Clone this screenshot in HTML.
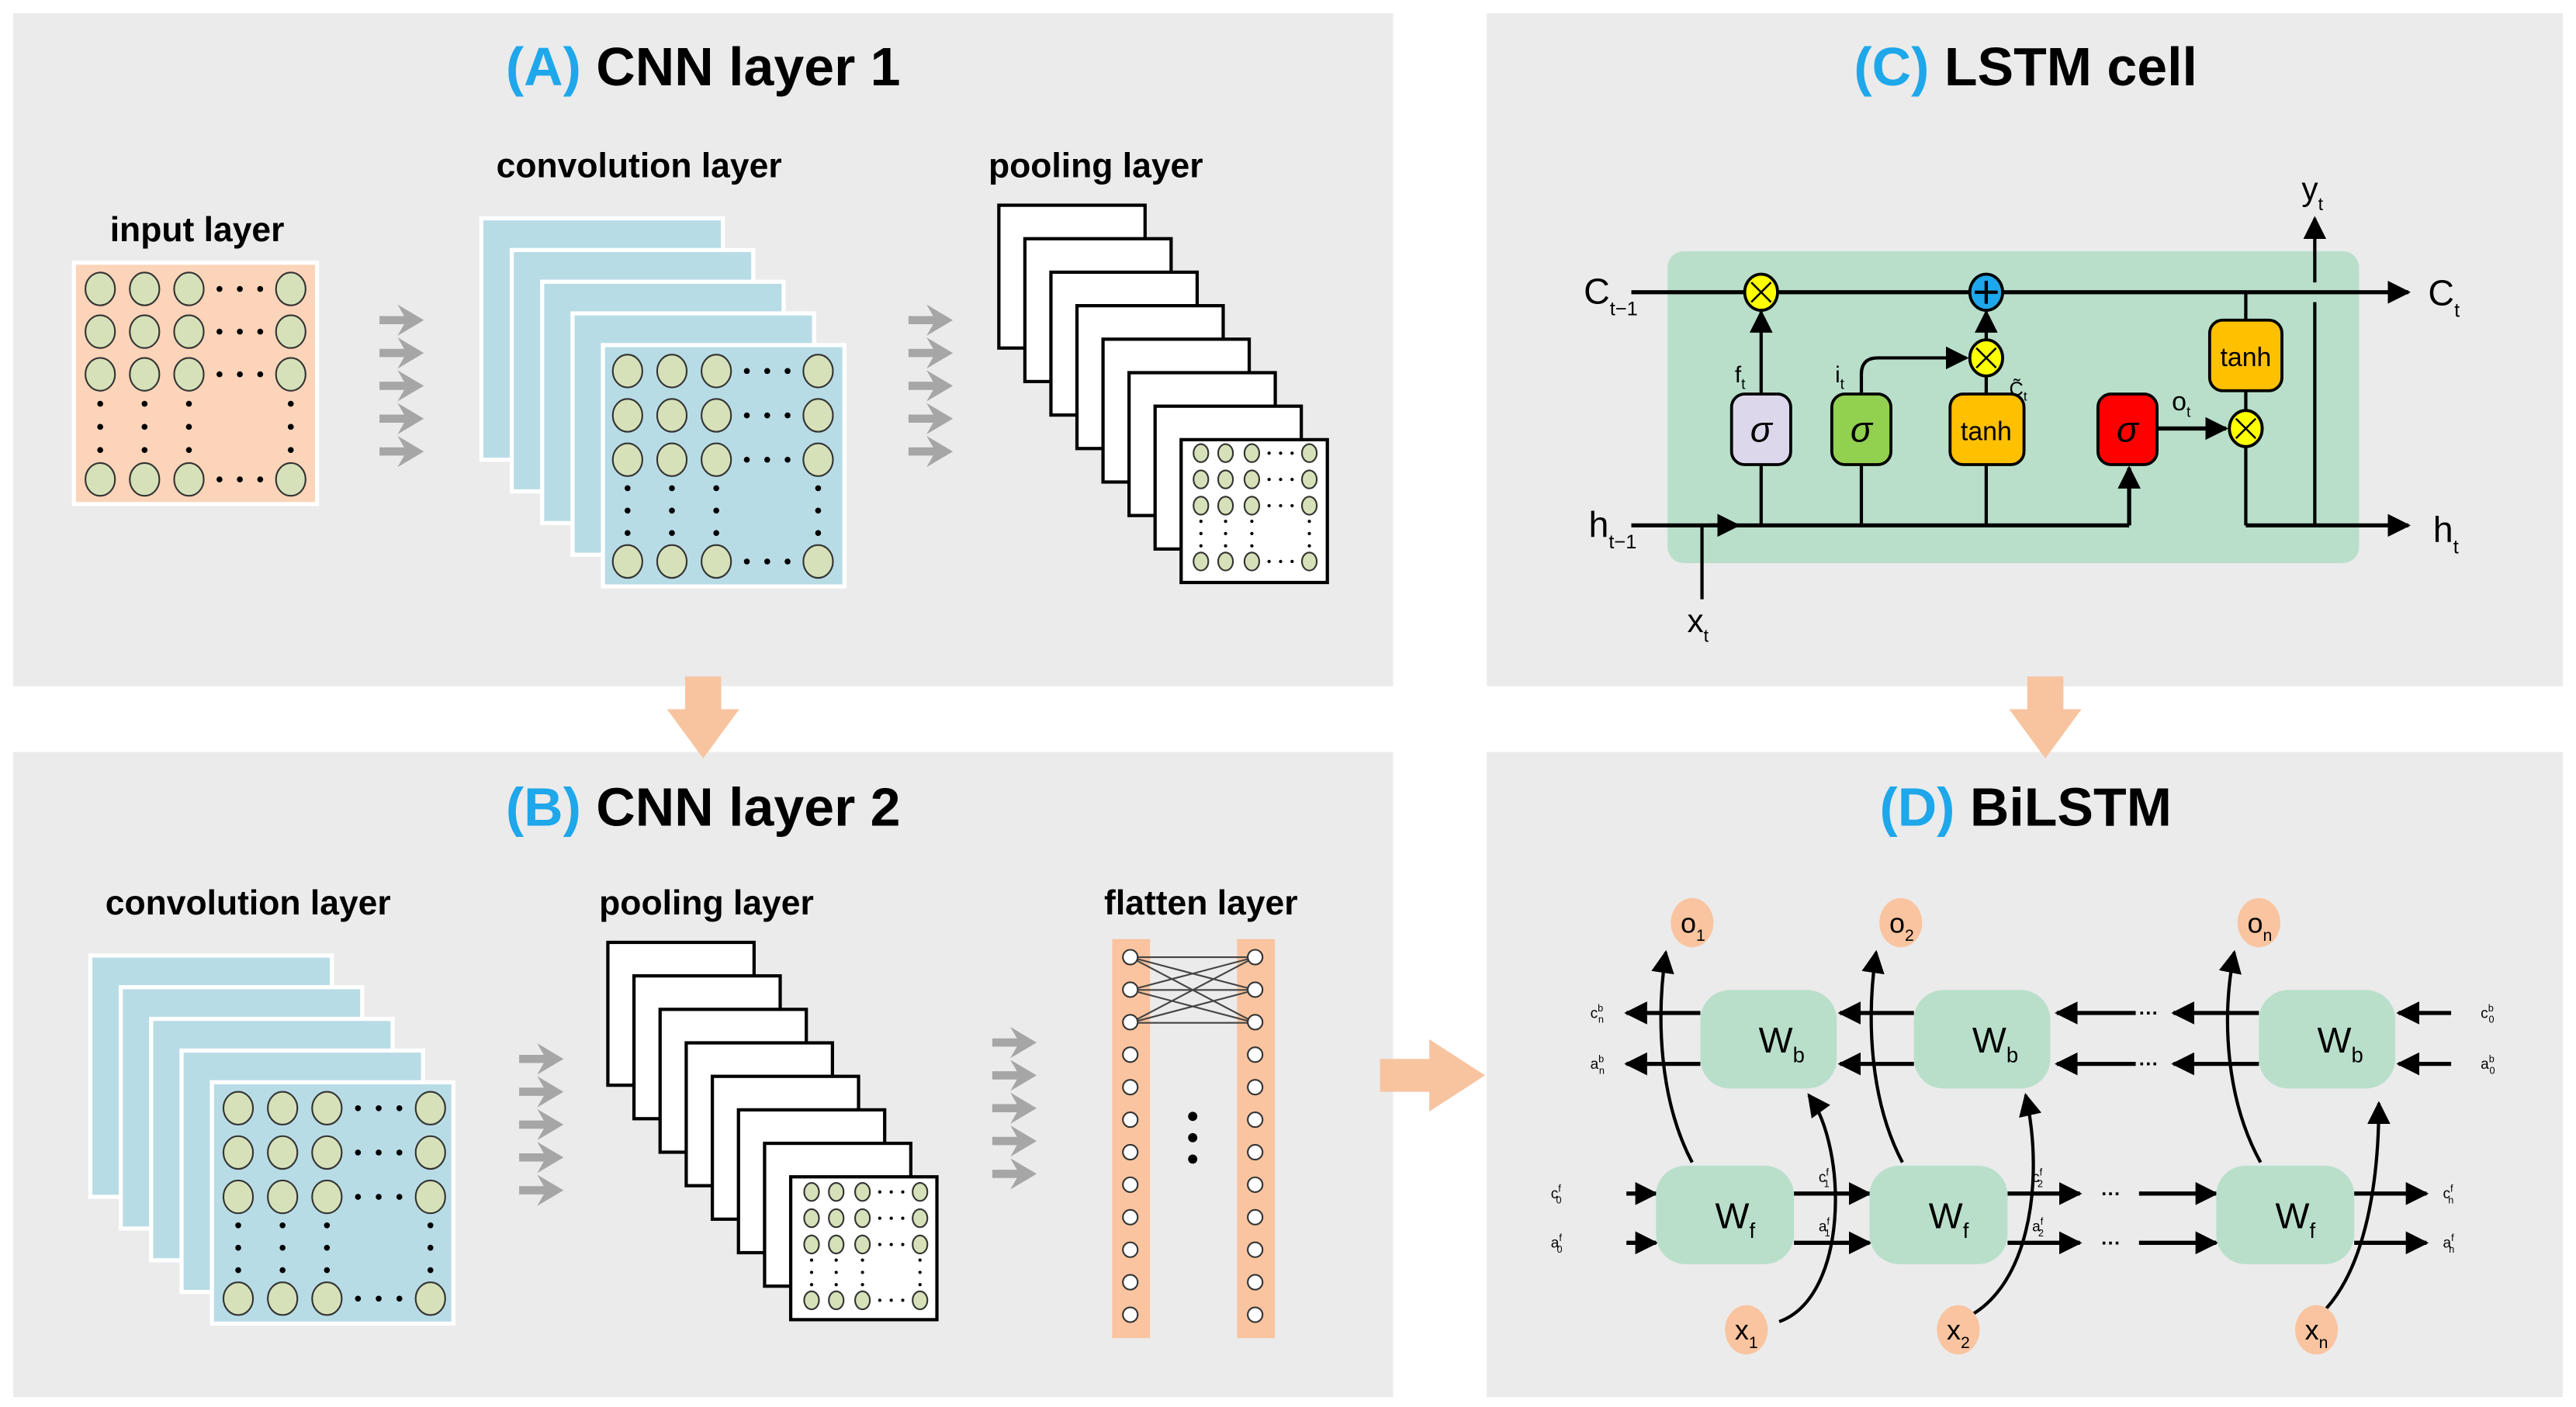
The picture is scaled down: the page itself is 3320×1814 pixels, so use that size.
<!DOCTYPE html>
<html><head><meta charset="utf-8">
<style>
html,body{margin:0;padding:0;background:#fff;}
svg{display:block;}
text{font-family:"Liberation Sans",sans-serif;}
</style></head>
<body>
<svg id="s" xmlns="http://www.w3.org/2000/svg" width="3320" height="1814" viewBox="0 0 1568 857" preserveAspectRatio="none">
<defs>
<marker id="ah" viewBox="0 0 10 10" refX="9" refY="5" markerWidth="5" markerHeight="5" orient="auto-start-reverse" markerUnits="userSpaceOnUse">
<path d="M0,0 L10,5 L0,10 z" fill="#000"/></marker>
<marker id="ahb" viewBox="0 0 10 10" refX="9" refY="5" markerWidth="14" markerHeight="14" orient="auto-start-reverse" markerUnits="userSpaceOnUse">
<path d="M0,0 L10,5 L0,10 z" fill="#000"/></marker>
</defs>
<rect width="1568" height="857" fill="#fff"/>
<rect x="8" y="8" width="840" height="410" fill="#ebebeb"/>
<rect x="905" y="8" width="655" height="410" fill="#ebebeb"/>
<rect x="8" y="458" width="840" height="393" fill="#ebebeb"/>
<rect x="905" y="458" width="655" height="393" fill="#ebebeb"/>

<text x="428" y="52" font-size="33" font-weight="bold" text-anchor="middle"><tspan fill="#1ea7ea">(A)</tspan> CNN layer 1</text>
<text x="428" y="503" font-size="33" font-weight="bold" text-anchor="middle"><tspan fill="#1ea7ea">(B)</tspan> CNN layer 2</text>
<text x="1233" y="52" font-size="33" font-weight="bold" text-anchor="middle"><tspan fill="#1ea7ea">(C)</tspan> LSTM cell</text>
<text x="1233" y="503" font-size="33" font-weight="bold" text-anchor="middle"><tspan fill="#1ea7ea">(D)</tspan> BiLSTM</text>

<!-- orange big arrows -->
<path d="M417,412 h22 v20 h11 l-22,30 l-22,-30 h11 z" fill="#f8c4a0"/>
<path d="M1234,412 h22 v20 h11 l-22,30 l-22,-30 h11 z" fill="#f8c4a0"/>
<path d="M840,645 h30 v-12 l34,22 l-34,22 v-12 h-30 z" fill="#f8c4a0"/>

<g font-size="21" font-weight="bold" text-anchor="middle" fill="#000">
<text x="120" y="147">input layer</text>
<text x="389" y="108">convolution layer</text>
<text x="667" y="108">pooling layer</text>
<text x="151" y="557">convolution layer</text>
<text x="430" y="557">pooling layer</text>
<text x="731" y="557">flatten layer</text>
</g>
<g id="gen"></g>

<!-- LSTM cell -->
<g stroke="#000" fill="none" stroke-width="2.5">
<rect x="1015" y="153" width="421" height="190" rx="10" fill="#b9dfca" stroke="none"/>
<line x1="993" y1="178" x2="1466" y2="178" marker-end="url(#ahb)"/>
<line x1="993" y1="320" x2="1296" y2="320"/>
<line x1="1296" y1="320" x2="1296" y2="285" marker-end="url(#ahb)"/>
<line x1="1367" y1="320" x2="1466" y2="320" marker-end="url(#ahb)"/>
<path d="M1040,320 L1058,320" marker-end="url(#ahb)"/>
<line x1="1036" y1="320" x2="1036" y2="365" stroke-width="2"/>
<line x1="1072" y1="320" x2="1072" y2="283" stroke-width="2"/>
<line x1="1133" y1="320" x2="1133" y2="283" stroke-width="2"/>
<line x1="1209" y1="320" x2="1209" y2="283" stroke-width="2"/>
<line x1="1072" y1="240" x2="1072" y2="190" stroke-width="2" marker-end="url(#ahb)"/>
<path d="M1133,240 V228 Q1133,218 1143,218 H1197" stroke-width="2" marker-end="url(#ahb)"/>
<line x1="1209" y1="240" x2="1209" y2="229" stroke-width="2"/>
<line x1="1209" y1="207" x2="1209" y2="190" stroke-width="2" marker-end="url(#ahb)"/>
<line x1="1313" y1="261" x2="1355" y2="261" marker-end="url(#ahb)"/>
<line x1="1367" y1="178" x2="1367" y2="195" stroke-width="2"/>
<line x1="1367" y1="238" x2="1367" y2="250" stroke-width="2"/>
<line x1="1367" y1="272" x2="1367" y2="320" stroke-width="2"/>
<line x1="1409" y1="320" x2="1409" y2="184" stroke-width="2"/>
<line x1="1409" y1="172" x2="1409" y2="133" stroke-width="2" marker-end="url(#ahb)"/>
</g>
<g stroke="#000" stroke-width="1.8">
<rect x="1054" y="240" width="36" height="43" rx="8" fill="#dcd7ea"/>
<rect x="1115" y="240" width="36" height="43" rx="8" fill="#92d050"/>
<rect x="1187" y="240" width="45" height="43" rx="8" fill="#ffc000"/>
<rect x="1277" y="240" width="36" height="43" rx="8" fill="#ff0000"/>
<rect x="1345" y="195" width="44" height="43" rx="8" fill="#ffc000"/>
<ellipse cx="1072" cy="178" rx="10" ry="11" fill="#ffff00"/>
<ellipse cx="1209" cy="178" rx="10" ry="11" fill="#1ea7ea"/>
<ellipse cx="1209" cy="218" rx="10" ry="11" fill="#ffff00"/>
<ellipse cx="1367" cy="261" rx="10" ry="11" fill="#ffff00"/>
</g>
<g stroke="#000" stroke-width="1.2">
<path d="M1066,172 l12,12 M1078,172 l-12,12"/>
<path d="M1203,212 l12,12 M1215,212 l-12,12"/>
<path d="M1361,255 l12,12 M1373,255 l-12,12"/>
<path d="M1202,178 h14 M1209,171 v14" stroke-width="2"/>
</g>
<g font-size="22" font-style="italic" text-anchor="middle" font-family="Liberation Serif">
<text x="1072" y="269" font-family="Liberation Serif">σ</text>
<text x="1133" y="269" font-family="Liberation Serif">σ</text>
<text x="1295" y="269" font-family="Liberation Serif">σ</text>
</g>
<g font-size="16" text-anchor="middle">
<text x="1209" y="268">tanh</text>
<text x="1367" y="223">tanh</text>
</g>
<g font-size="22">
<text x="964" y="185">C<tspan font-size="12" dy="7">t−1</tspan></text>
<text x="1478" y="186">C<tspan font-size="12" dy="7">t</tspan></text>
<text x="967" y="327">h<tspan font-size="12" dy="7">t−1</tspan></text>
<text x="1481" y="330">h<tspan font-size="12" dy="7">t</tspan></text>
<text x="1027" y="385" font-size="20">x<tspan font-size="11" dy="6">t</tspan></text>
<text x="1401" y="122" font-size="20">y<tspan font-size="11" dy="6">t</tspan></text>
<text x="1056" y="233" font-size="14">f<tspan font-size="9" dy="4">t</tspan></text>
<text x="1117" y="233" font-size="14">i<tspan font-size="9" dy="4">t</tspan></text>
<text x="1223" y="241" font-size="12">C̃<tspan font-size="8" dy="3">t</tspan></text>
<text x="1322" y="250" font-size="16">o<tspan font-size="9" dy="4">t</tspan></text>
</g>
<g id="bil"></g>
</svg>
<script>
var NS="http://www.w3.org/2000/svg";
var out=[];
function circGrid(cols,rows,rx,ry){
  cols.forEach(function(c){
    if(c==null)return;
    rows.forEach(function(r){
      if(r==null)return;
      out.push('<ellipse cx="'+c+'" cy="'+r+'" rx="'+rx+'" ry="'+ry+'" fill="#d6e1b9" stroke="#333" stroke-width="1"/>');
    });
  });
}
function dotsH(x1,x2,y,r){for(var i=0;i<3;i++)out.push('<circle cx="'+(x1+(x2-x1)*i/2)+'" cy="'+y+'" r="'+r+'"/>');}
function dotsV(x,y1,y2,r){for(var i=0;i<3;i++)out.push('<circle cx="'+x+'" cy="'+(y1+(y2-y1)*i/2)+'" r="'+r+'"/>');}
function grid(cols,rows,rx,ry,dr){
  // cols: [c1,c2,c3,c4]; rows: [r1,r2,r3,r4]
  circGrid(cols,rows,rx,ry);
  var dx1=cols[2]+(cols[3]-cols[2])*0.3, dx2=cols[2]+(cols[3]-cols[2])*0.7;
  rows.forEach(function(r){dotsH(dx1,dx2,r,dr);});
  var dy1=rows[2]+(rows[3]-rows[2])*0.28, dy2=rows[2]+(rows[3]-rows[2])*0.72;
  cols.forEach(function(c){dotsV(c,dy1,dy2,dr);});
}
function grayArrows(x,y0,step,n){
  for(var i=0;i<n;i++){var y=y0+i*step;
    out.push('<path d="M'+x+','+(y-2.5)+' h15 l-4,-7 l16,9.5 l-16,9.5 l4,-7 h-15 z" fill="#a6a6a6"/>');}
}
// panel A input
out.push('<rect x="45" y="160" width="148" height="147" fill="#fbd4b9" stroke="#fff" stroke-width="2.5"/>');
grid([61,88,115,177],[176,202,228,292],9,10,1.8);
grayArrows(231,195,20,5);
// conv stack A
for(var i=0;i<5;i++){var x=293+i*18.5,y=133+i*19.3;
  out.push('<rect x="'+x+'" y="'+y+'" width="147" height="147" fill="#b8dce6" stroke="#fff" stroke-width="2.5"/>');}
grid([382,409,436,498],[226,253,280,342],9,10,1.8);
grayArrows(553,195,20,5);
// pooling stack A
for(var i=0;i<8;i++){var x=608+i*15.85,y=125+i*20.4;
  out.push('<rect x="'+x+'" y="'+y+'" width="89" height="87" fill="#fff" stroke="#000" stroke-width="2"/>');}
grid([731,746,762,797],[276,292,308,342],4.5,5.5,1);
// panel B conv
for(var i=0;i<5;i++){var x=55+i*18.5,y=582+i*19.3;
  out.push('<rect x="'+x+'" y="'+y+'" width="147" height="147" fill="#b8dce6" stroke="#fff" stroke-width="2.5"/>');}
grid([145,172,199,262],[675,702,729,791],9,10,1.8);
grayArrows(316,645,20,5);
for(var i=0;i<8;i++){var x=370+i*15.9,y=574+i*20.4;
  out.push('<rect x="'+x+'" y="'+y+'" width="89" height="87" fill="#fff" stroke="#000" stroke-width="2"/>');}
grid([494,509,525,560],[726,742,758,792],4.5,5.5,1);
grayArrows(604,635,20,5);
// flatten
out.push('<rect x="677" y="572" width="23" height="243" fill="#f9c49f"/>');
out.push('<rect x="753" y="572" width="23" height="243" fill="#f9c49f"/>');
for(var a=0;a<3;a++)for(var b=0;b<3;b++)out.push('<line x1="688" y1="'+(583+a*20)+'" x2="764" y2="'+(583+b*20)+'" stroke="#444" stroke-width="1"/>');
for(var i=0;i<12;i++){var y=583+i*19.8;
  out.push('<circle cx="688" cy="'+y+'" r="4.5" fill="#fff" stroke="#333" stroke-width="1"/>');
  out.push('<circle cx="764" cy="'+y+'" r="4.5" fill="#fff" stroke="#333" stroke-width="1"/>');}
dotsV(726,680,706,2.8);
document.getElementById('gen').innerHTML=out.join('');

// BiLSTM
var b=[];
function arr(x1,y,x2){b.push('<line x1="'+x1+'" y1="'+y+'" x2="'+x2+'" y2="'+y+'" stroke="#000" stroke-width="2.5" marker-end="url(#ahb)"/>');}
function box(x,y,w,h,lab,sub){b.push('<rect x="'+x+'" y="'+y+'" width="'+w+'" height="'+h+'" rx="18" fill="#b9dfca"/>');
  b.push('<text x="'+(x+w/2-6)+'" y="'+(y+h/2+8)+'" font-size="22">W<tspan font-size="13" dy="6">'+sub+'</tspan></text>');}
function circ(x,y,l,s){b.push('<ellipse cx="'+x+'" cy="'+y+'" rx="13" ry="15" fill="#f9c49f"/>');
  b.push('<text x="'+(x-7)+'" y="'+(y+6)+'" font-size="17">'+l+'<tspan font-size="10" dy="5">'+s+'</tspan></text>');}
function small(x,y,l,sup,sub){b.push('<text x="'+x+'" y="'+y+'" font-size="9">'+l+'<tspan font-size="6" dy="-4">'+sup+'</tspan><tspan font-size="6" dx="-3" dy="7">'+sub+'</tspan></text>');}
function curve(d){b.push('<path d="'+d+'" fill="none" stroke="#000" stroke-width="2" marker-end="url(#ahb)"/>');}
[617,648].forEach(function(y){
  arr(1035,y,990);arr(1165,y,1120);arr(1300,y,1252);arr(1375,y,1323);arr(1492,y,1460);
  b.push('<text x="1302" y="'+(y+4)+'" font-size="12" font-weight="bold">···</text>');
});
[727,757].forEach(function(y){
  arr(990,y,1008);arr(1092,y,1138);arr(1222,y,1266);arr(1302,y,1349);arr(1433,y,1477);
  b.push('<text x="1279" y="'+(y+4)+'" font-size="12" font-weight="bold">···</text>');
});
small(968,620,'c','b','n');small(968,651,'a','b','n');
small(1510,620,'c','b','0');small(1510,651,'a','b','0');
small(944,730,'c','f','0');small(944,760,'a','f','0');
small(1487,730,'c','f','n');small(1487,760,'a','f','n');
small(1107,720,'c','f','1');small(1107,750,'a','f','1');
small(1237,720,'c','f','2');small(1237,750,'a','f','2');
// curves
curve('M1030,708 C1010,670 1008,620 1014,580');
curve('M1158,708 C1138,670 1136,620 1142,580');
curve('M1376,708 C1355,670 1352,620 1360,580');
curve('M1083,805 C1125,790 1125,700 1101,667');
curve('M1191,805 C1235,790 1245,720 1233,667');
curve('M1416,797 C1440,770 1448,720 1448,672');
box(1035,603,83,60,'W','b');box(1165,603,83,60,'W','b');box(1375,603,83,60,'W','b');
box(1008,710,84,60,'W','f');box(1138,710,84,60,'W','f');box(1349,710,84,60,'W','f');
circ(1030,562,'o','1');circ(1157,562,'o','2');circ(1375,562,'o','n');
circ(1063,810,'x','1');circ(1192,810,'x','2');circ(1410,810,'x','n');
document.getElementById('bil').innerHTML=b.join('');
</script>
</body></html>
